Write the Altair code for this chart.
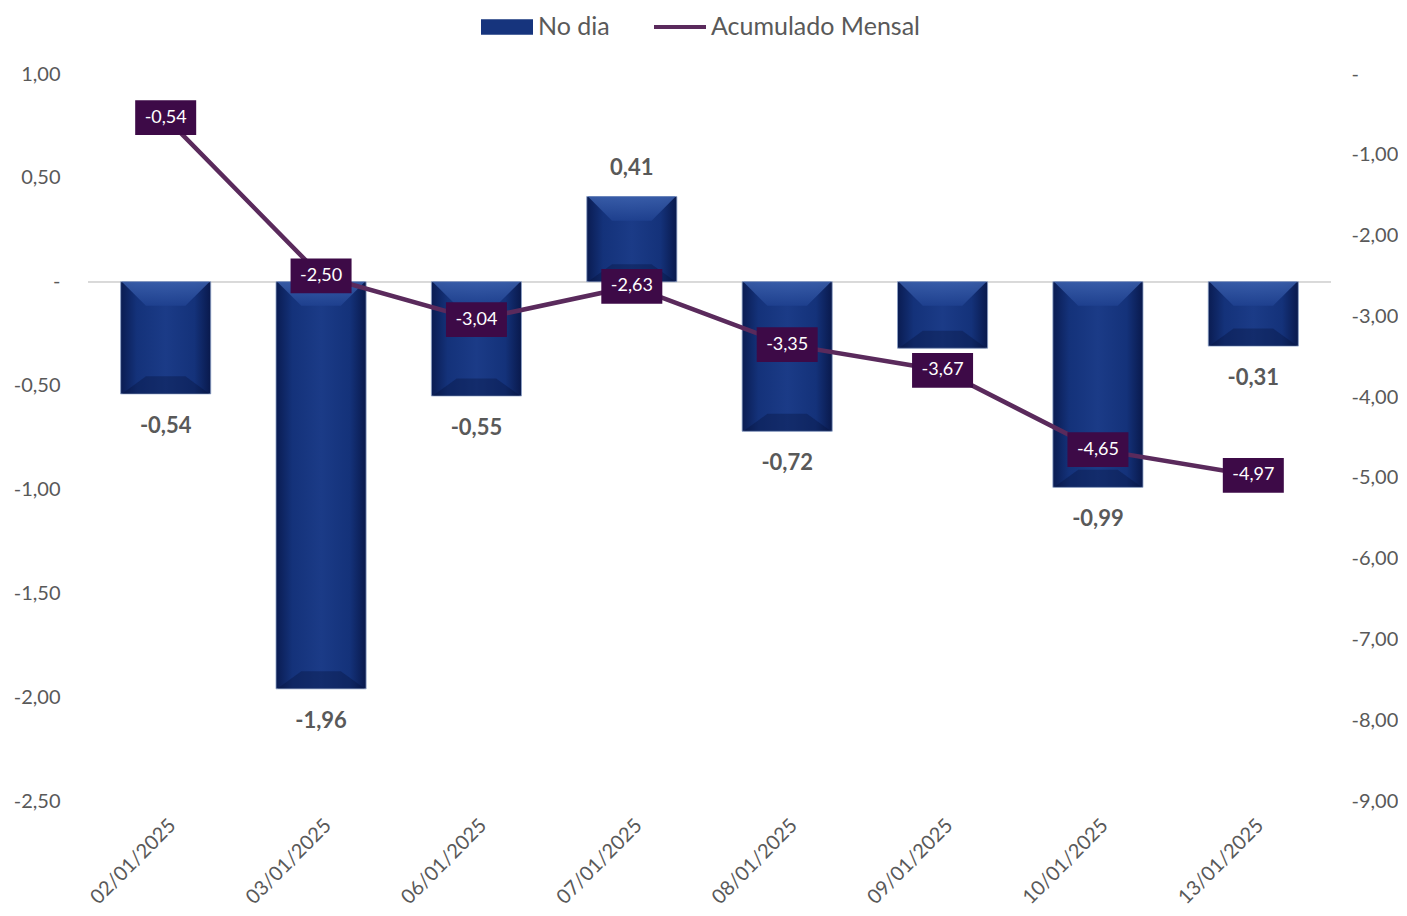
import altair as alt
import pandas as pd

dates = ["02/01/2025", "03/01/2025", "06/01/2025", "07/01/2025",
         "08/01/2025", "09/01/2025", "10/01/2025", "13/01/2025"]
no_dia = [-0.54, -1.96, -0.55, 0.41, -0.72, -0.32, -0.99, -0.31]
acumulado = [-0.54, -2.50, -3.04, -2.63, -3.35, -3.67, -4.65, -4.97]
# bar value labels shown in the reference (09/01 label is hidden behind its box)
show_label = [True, True, True, True, True, False, True, True]
series = ["No dia", "Acumulado Mensal"]
left_ticks = [-2.5, -2.0, -1.5, -1.0, -0.5, 0.0, 0.5, 1.0]
right_ticks = [-9, -8, -7, -6, -5, -4, -3, -2, -1, 0]


def br(v):
    return f"{v:.2f}".replace(".", ",")


df = pd.DataFrame({"date": dates, "v": no_dia, "a": acumulado, "show": show_label})
df["vl"] = df["v"].map(br)
df["al"] = df["a"].map(br)
df["top"] = df["v"].clip(lower=0)
df["bot"] = df["v"].clip(upper=0)
leg = pd.DataFrame({"series": series, "date": [dates[0]] * 2, "v": [0.0, 0.0]})

FONT = "Lato"
GRAY = "#595959"
LINE = "#5a2a5c"
BOX = "#3d0a47"

lab_expr = ("datum.value == 0 ? '-' : "
            "replace(replace(format(datum.value, '.2f'), '.', ','), '\u2212', '-')")

X = alt.X("date:N", sort=dates)
x_enc = alt.X("date:N", sort=dates, title=None,
              scale=alt.Scale(paddingInner=0.42, paddingOuter=0.21),
              axis=alt.Axis(labelAngle=-45, labelFontSize=20, labelColor=GRAY,
                            labelPadding=14, domain=False, ticks=False, labelFont=FONT))
y_left = alt.Y("v:Q", title=None,
               scale=alt.Scale(domain=[-2.5, 1.0], nice=False, zero=False),
               axis=alt.Axis(values=left_ticks, labelExpr=lab_expr, labelFontSize=20,
                             labelColor=GRAY, labelPadding=28, domain=False, ticks=False,
                             grid=False, labelFont=FONT))

grad = alt.Gradient(
    gradient="linear",
    stops=[alt.GradientStop(color="#0a1c52", offset=0),
           alt.GradientStop(color="#14327a", offset=0.18),
           alt.GradientStop(color="#1b3b87", offset=0.5),
           alt.GradientStop(color="#14327a", offset=0.82),
           alt.GradientStop(color="#09194c", offset=1)],
    x1=0, x2=1, y1=0, y2=0)
top_grad = alt.Gradient(
    gradient="linear",
    stops=[alt.GradientStop(color="#3d62ae", offset=0),
           alt.GradientStop(color="#1f4190", offset=1)],
    x1=0, x2=0, y1=0, y2=1)

base = alt.Chart(df)

zero = base.mark_rule(color="#d9d9d9", strokeWidth=1.5).encode(y=alt.datum(0))
bars = base.mark_bar(fill=grad, stroke="#8ea2c8", strokeWidth=0.8).encode(x=x_enc, y=y_left)
bevel_top = base.mark_point(shape="M-1,0H1L0.45,0.55H-0.45Z", size=7700, filled=True,
                            opacity=0.85, fill=top_grad, strokeWidth=0).encode(
    x=X, y="top:Q")
bevel_bot = base.mark_point(shape="M-1,0H1L0.45,-0.4H-0.45Z", size=7700, filled=True,
                            opacity=0.35, color="#06123a", strokeWidth=0).encode(
    x=X, y="bot:Q")
lab_neg = base.transform_filter("datum.v < 0 && datum.show").mark_text(
    font=FONT, fontSize=22, fontWeight="bold", color=GRAY, dy=32
).encode(x=X, y="v:Q", text="vl:N")
lab_pos = base.transform_filter("datum.v >= 0 && datum.show").mark_text(
    font=FONT, fontSize=22, fontWeight="bold", color=GRAY, dy=-29
).encode(x=X, y="v:Q", text="vl:N")

dummy = alt.Chart(leg).mark_point(filled=True, opacity=0, size=2704).encode(
    x=X,
    y="v:Q",
    color=alt.Color("series:N", sort=series,
                    scale=alt.Scale(domain=series, range=["#16347d", LINE]),
                    legend=alt.Legend(title=None, orient="none", direction="horizontal",
                                      legendX=393, legendY=-73, symbolSize=2704,
                                      symbolOpacity=1, symbolStrokeWidth=0,
                                      labelFontSize=25, labelColor=GRAY, labelFont=FONT,
                                      labelOffset=5, columnPadding=44, labelLimit=400)),
    shape=alt.Shape("series:N", sort=series,
                    scale=alt.Scale(domain=series,
                                    range=["M-1,-0.3H1V0.3H-1Z", "M-1,-0.08H1V0.08H-1Z"]),
                    legend=None),
)

left = alt.layer(zero, bars, bevel_top, bevel_bot, lab_neg, lab_pos, dummy)

y_right = alt.Y("a:Q", title=None,
                scale=alt.Scale(domain=[-9, 0], nice=False, zero=False),
                axis=alt.Axis(orient="right", values=right_ticks, labelExpr=lab_expr,
                              labelFontSize=20, labelColor=GRAY, labelPadding=20,
                              domain=False, ticks=False, grid=False, labelFont=FONT))

line = base.mark_line(color=LINE, strokeWidth=4.5).encode(x=X, y=y_right)
boxes = base.mark_point(shape="M-1,-0.57H1V0.57H-1Z", size=3721, filled=True,
                        opacity=1, color=BOX, strokeWidth=0).encode(x=X, y="a:Q")
box_txt = base.mark_text(font=FONT, fontSize=18, color="white").encode(
    x=X, y="a:Q", text="al:N")

right = alt.layer(line, boxes, box_txt)

chart = alt.layer(left, right).resolve_scale(y="independent").properties(
    width=1243, height=727,
    autosize=alt.AutoSizeParams(type="none"),
    padding={"left": 80, "top": 66, "right": 67, "bottom": 106},
).configure(font=FONT, view=alt.ViewConfig(stroke=None, strokeWidth=0))

chart.save("out.html", embed_options={"renderer": "svg", "actions": False})
